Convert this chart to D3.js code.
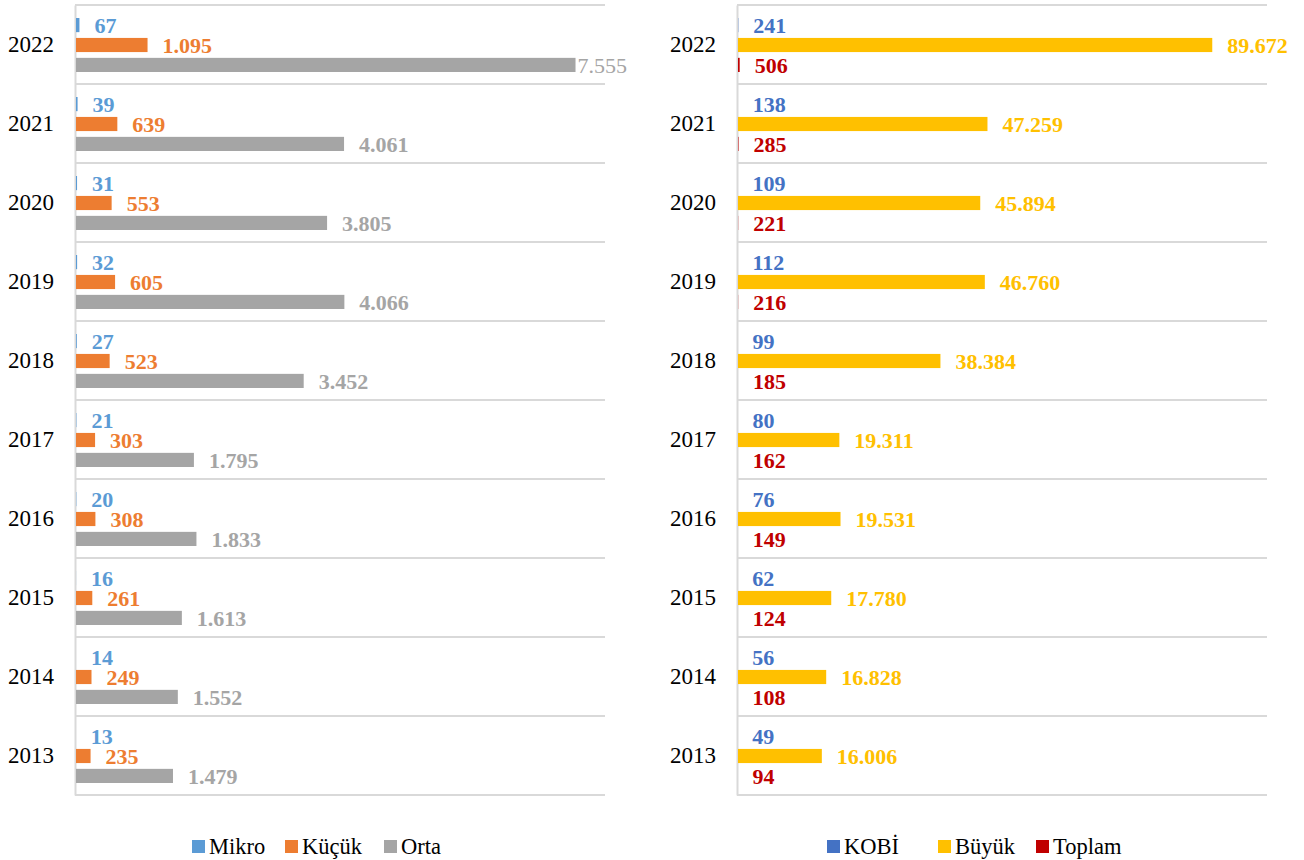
<!DOCTYPE html>
<html>
<head>
<meta charset="utf-8">
<script src="https://cdn.jsdelivr.net/npm/d3@7"></script>
<style>
  html, body { margin: 0; padding: 0; background: #fff; }
  svg { display: block; font-family: "Liberation Serif", "DejaVu Serif", serif; }
</style>
</head>
<body>
<svg id="chart" width="1304" height="860"></svg>
<script>
// Years, top to bottom
const years = ["2022", "2021", "2020", "2019", "2018", "2017", "2016", "2015", "2014", "2013"];

// Left panel: enterprise size classes
const mikro = [67, 39, 31, 32, 27, 21, 20, 16, 14, 13];
const kucuk = [1095, 639, 553, 605, 523, 303, 308, 261, 249, 235];
const orta  = [7555, 4061, 3805, 4066, 3452, 1795, 1833, 1613, 1552, 1479];

// Right panel
const kobi   = [241, 138, 109, 112, 99, 80, 76, 62, 56, 49];
const buyuk  = [89672, 47259, 45894, 46760, 38384, 19311, 19531, 17780, 16828, 16006];
const toplam = [506, 285, 221, 216, 185, 162, 149, 124, 108, 94];

const leftSeries = [
  { name: "Mikro", values: mikro, color: "#5B9BD5" },
  { name: "Küçük", values: kucuk, color: "#ED7D31" },
  { name: "Orta",  values: orta,  color: "#A5A5A5" }
];
const rightSeries = [
  { name: "KOBİ",   values: kobi,   color: "#4472C4" },
  { name: "Büyük",  values: buyuk,  color: "#FFC000" },
  { name: "Toplam", values: toplam, color: "#C00000" }
];

const fmt = v => d3.format(",")(v).replace(/,/g, ".");
const svg = d3.select("#chart");

function panel(cfg) {
  const g = svg.append("g");
  const x = d3.scaleLinear().domain([0, cfg.max]).range([cfg.x0, cfg.x1]);
  const y = d3.scaleBand().domain(years).range([cfg.y0, cfg.y1]);
  const inner = d3.scaleBand().domain(cfg.series.map(s => s.name))
    .range([13, y.bandwidth() - 12]).paddingInner(0.29);
  const nearEnd = v => x(v) > cfg.x0 + (cfg.x1 - cfg.x0) * 0.9;

  // horizontal gridlines at category boundaries
  const bounds = years.map(yr => y(yr)).concat([cfg.y1]);
  g.selectAll("line.grid").data(bounds).join("line")
    .attr("x1", cfg.x0).attr("x2", cfg.x1)
    .attr("y1", d => d).attr("y2", d => d)
    .attr("stroke", "#D9D9D9").attr("stroke-width", 2);

  // category axis
  const axis = g.append("g").attr("transform", `translate(${cfg.x0},0)`)
    .call(d3.axisLeft(y).tickSize(0).tickPadding(21));
  axis.select(".domain").attr("stroke", "#D9D9D9").attr("stroke-width", 2);
  axis.selectAll("text").attr("font-size", 23).attr("fill", "#000")
    .attr("font-family", "Liberation Serif, serif");

  cfg.series.forEach(s => {
    const rows = years.map((yr, i) => ({ yr, v: s.values[i] }));
    g.selectAll(null).data(rows).join("rect")
      .attr("x", cfg.x0 + 1)
      .attr("y", d => y(d.yr) + inner(s.name))
      .attr("width", d => Math.max(0, x(d.v) - cfg.x0 - 1))
      .attr("height", inner.bandwidth())
      .attr("fill", s.color);

    g.selectAll(null).data(rows).join("text")
      .attr("x", d => nearEnd(d.v) ? x(d.v) + 2 : x(d.v) + 15)
      .attr("y", d => y(d.yr) + inner(s.name) + inner.bandwidth() / 2)
      .attr("dy", "0.35em")
      .attr("font-size", 22)
      .attr("font-weight", d => nearEnd(d.v) ? "normal" : "bold")
      .attr("fill", s.color)
      .text(d => fmt(d.v));
  });

  // legend
  const lg = g.append("g");
  cfg.series.forEach((s, i) => {
    const lx = cfg.legendX[i];
    lg.append("rect").attr("x", lx).attr("y", 840).attr("width", 13).attr("height", 13).attr("fill", s.color);
    lg.append("text").attr("x", lx + 17).attr("y", 846.5).attr("dy", "0.35em")
      .attr("font-size", 22.5).attr("fill", "#000").text(s.name);
  });
}

panel({ series: leftSeries, max: 8000, x0: 75, x1: 605, y0: 5, y1: 795, legendX: [192, 285, 384] });
panel({ series: rightSeries, max: 100000, x0: 737, x1: 1267, y0: 5, y1: 795, legendX: [827, 938, 1036] });
</script>
</body>
</html>
